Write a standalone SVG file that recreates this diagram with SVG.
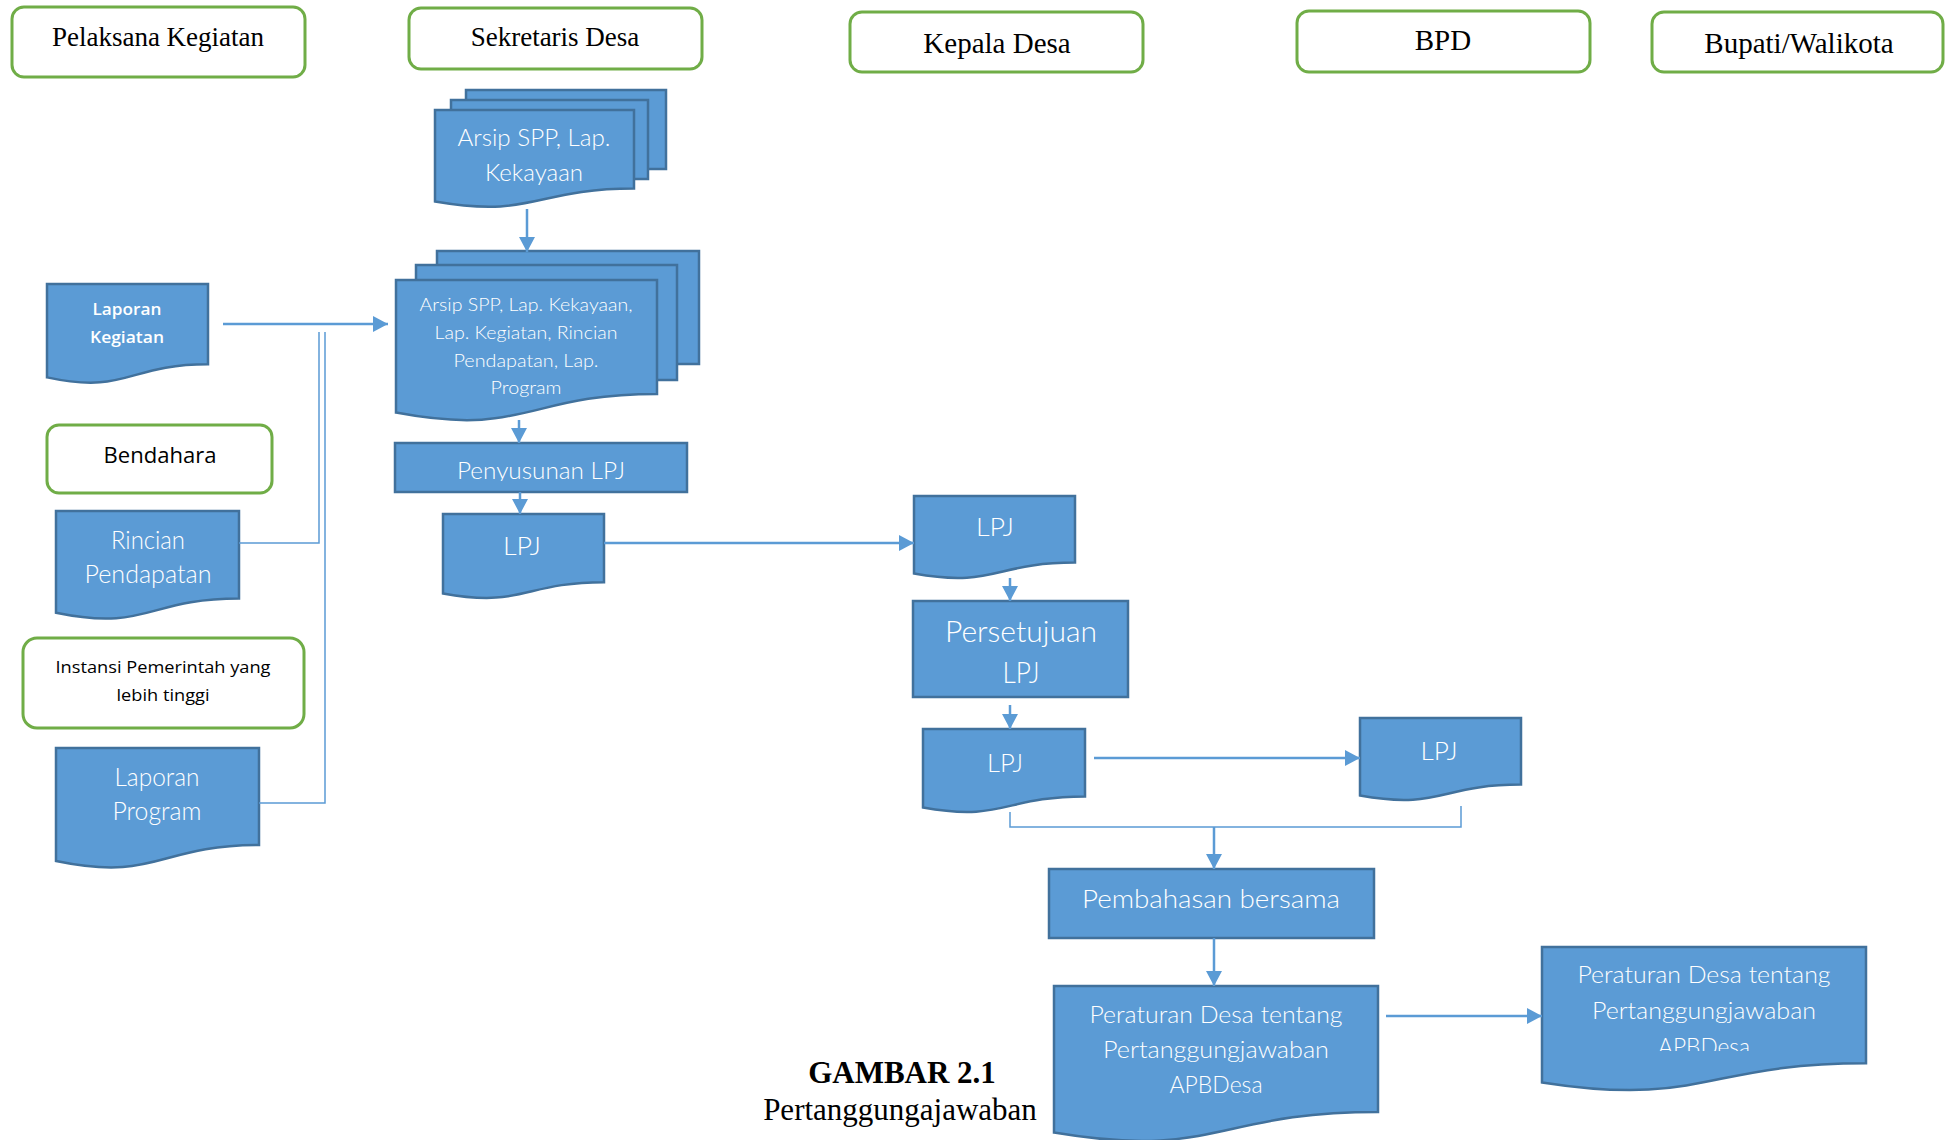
<svg xmlns="http://www.w3.org/2000/svg" width="1945" height="1140" viewBox="0 0 1945 1140">
<style>
.hdr{fill:#fff;stroke:#70AD47;stroke-width:3}
.ht{font-family:"Liberation Serif","Times New Roman",serif;fill:#000;text-anchor:middle}
.lt{font-family:"Open Sans","Noto Sans",sans-serif;font-weight:400;fill:#000;text-anchor:middle}
.shape{fill:#5B9BD5;stroke:#41719C;stroke-width:2.5}
.wt{font-family:Lato,"Open Sans",sans-serif;font-weight:300;fill:#fff;text-anchor:middle}
.wm{font-family:"Open Sans","Noto Sans",sans-serif;font-weight:600;fill:#fff;text-anchor:middle}
.arr{stroke:#5B9BD5;stroke-width:2.5;fill:none}
.thin{stroke:#5B9BD5;stroke-width:1.5;fill:none}
</style>
<defs>
<marker id="ah" markerUnits="userSpaceOnUse" markerWidth="16" markerHeight="16" refX="15" refY="8" orient="auto">
<path d="M0,0 L15,8 L0,16 Z" fill="#5B9BD5"/>
</marker>
<clipPath id="clipPeny"><rect x="395" y="443" width="292" height="38"/></clipPath>
<clipPath id="clipPer2"><rect x="1542" y="947" width="324" height="104"/></clipPath>
</defs>

<g id="hdr-pelaksana"><rect class="hdr" x="12" y="7" width="293" height="70" rx="12"/><text class="ht" x="158" y="46" font-size="27">Pelaksana Kegiatan</text></g>
<g id="hdr-sekretaris"><rect class="hdr" x="409" y="8" width="293" height="61" rx="12"/><text class="ht" x="555" y="46" font-size="27">Sekretaris Desa</text></g>
<g id="hdr-kepala"><rect class="hdr" x="850" y="12" width="293" height="60" rx="12"/><text class="ht" x="997" y="53" font-size="29">Kepala Desa</text></g>
<g id="hdr-bpd"><rect class="hdr" x="1297" y="11" width="293" height="61" rx="12"/><text class="ht" x="1443" y="50" font-size="29">BPD</text></g>
<g id="hdr-bupati"><rect class="hdr" x="1652" y="12" width="291" height="60" rx="12"/><text class="ht" x="1799" y="53" font-size="29">Bupati/Walikota</text></g>

<g id="laporan-kegiatan"><path class="shape" d="M47,284 H208 V364.2 C127.5,364.2 127.5,394.7 47,377.4 Z"/>
<text class="wm" x="127" y="315" font-size="17" textLength="69" lengthAdjust="spacingAndGlyphs">Laporan</text>
<text class="wm" x="127" y="343" font-size="17" textLength="74" lengthAdjust="spacingAndGlyphs">Kegiatan</text></g>

<g id="bendahara"><rect class="hdr" x="47" y="425" width="225" height="68" rx="12"/><text class="lt" x="160" y="463" font-size="22" textLength="113" lengthAdjust="spacingAndGlyphs">Bendahara</text></g>

<g id="rincian"><path class="shape" d="M56,511 H239 V598.4 C147.5,598.4 147.5,631.7 56,612.8 Z"/>
<text class="wt" x="148" y="549" font-size="25" textLength="74" lengthAdjust="spacingAndGlyphs">Rincian</text>
<text class="wt" x="148" y="583" font-size="25" textLength="127" lengthAdjust="spacingAndGlyphs">Pendapatan</text></g>

<g id="instansi"><rect class="hdr" x="23" y="638" width="281" height="90" rx="14"/>
<text class="lt" x="163" y="673" font-size="17" textLength="215" lengthAdjust="spacingAndGlyphs">Instansi Pemerintah yang</text>
<text class="lt" x="163" y="701" font-size="17" textLength="93" lengthAdjust="spacingAndGlyphs">lebih tinggi</text></g>

<g id="laporan-program"><path class="shape" d="M56,748 H259 V845 C157.5,845 157.5,882 56,861 Z"/>
<text class="wt" x="157" y="786" font-size="25" textLength="85" lengthAdjust="spacingAndGlyphs">Laporan</text>
<text class="wt" x="157" y="820" font-size="25" textLength="89" lengthAdjust="spacingAndGlyphs">Program</text></g>

<g id="arsip-stack">
<rect class="shape" x="466" y="90" width="200" height="79"/>
<rect class="shape" x="451" y="100" width="197" height="79"/>
<path class="shape" d="M435,110 H634 V188.6 C534.5,188.6 534.5,218.5 435,201.5 Z"/>
<text class="wt" x="534" y="146" font-size="23" textLength="153" lengthAdjust="spacingAndGlyphs">Arsip SPP, Lap.</text>
<text class="wt" x="534" y="181" font-size="23" textLength="98" lengthAdjust="spacingAndGlyphs">Kekayaan</text>
</g>

<g id="gabungan-stack">
<rect class="shape" x="437" y="251" width="262" height="113"/>
<rect class="shape" x="416" y="265" width="261" height="115"/>
<path class="shape" d="M396,280 H657 V393.9 C526.5,393.9 526.5,437.2 396,412.6 Z"/>
<text class="wt" x="526" y="311" font-size="18" textLength="213" lengthAdjust="spacingAndGlyphs">Arsip SPP, Lap. Kekayaan,</text>
<text class="wt" x="526" y="339" font-size="18" textLength="183" lengthAdjust="spacingAndGlyphs">Lap. Kegiatan, Rincian</text>
<text class="wt" x="526" y="367" font-size="18" textLength="145" lengthAdjust="spacingAndGlyphs">Pendapatan, Lap.</text>
<text class="wt" x="526" y="394" font-size="18" textLength="71" lengthAdjust="spacingAndGlyphs">Program</text>
</g>

<g id="penyusunan"><rect class="shape" x="395" y="443" width="292" height="49"/>
<text class="wt" x="541" y="479" font-size="24" textLength="168" lengthAdjust="spacingAndGlyphs" clip-path="url(#clipPeny)">Penyusunan LPJ</text></g>

<g id="lpj-sekdes"><path class="shape" d="M443,514 H604 V582.2 C523.5,582.2 523.5,608.1 443,593.4 Z"/>
<text class="wt" x="522" y="555" font-size="26" textLength="38" lengthAdjust="spacingAndGlyphs">LPJ</text></g>

<g id="lpj-kades"><path class="shape" d="M914,496 H1075 V562.6 C994.5,562.6 994.5,587.9 914,573.5 Z"/>
<text class="wt" x="995" y="536" font-size="26" textLength="38" lengthAdjust="spacingAndGlyphs">LPJ</text></g>

<g id="persetujuan"><rect class="shape" x="913" y="601" width="215" height="96"/>
<text class="wt" x="1021" y="642" font-size="29" textLength="152" lengthAdjust="spacingAndGlyphs">Persetujuan</text>
<text class="wt" x="1021" y="683" font-size="29" textLength="37" lengthAdjust="spacingAndGlyphs">LPJ</text></g>

<g id="lpj-kades2"><path class="shape" d="M923,729 H1085 V796.4 C1004,796.4 1004,822 923,807.5 Z"/>
<text class="wt" x="1005" y="772" font-size="26" textLength="36" lengthAdjust="spacingAndGlyphs">LPJ</text></g>

<g id="lpj-bpd"><path class="shape" d="M1360,718 H1521 V784.6 C1440.5,784.6 1440.5,809.9 1360,795.5 Z"/>
<text class="wt" x="1439" y="760" font-size="26" textLength="37" lengthAdjust="spacingAndGlyphs">LPJ</text></g>

<g id="pembahasan"><rect class="shape" x="1049" y="869" width="325" height="69"/>
<text class="wt" x="1211" y="908" font-size="26" textLength="258" lengthAdjust="spacingAndGlyphs">Pembahasan bersama</text></g>

<g id="perdes-kades"><path class="shape" d="M1054,986 H1378 V1111.9 C1216,1111.9 1216,1159.8 1054,1132.6 Z"/>
<text class="wt" x="1216" y="1023" font-size="24" textLength="253" lengthAdjust="spacingAndGlyphs">Peraturan Desa tentang</text>
<text class="wt" x="1216" y="1058" font-size="24" textLength="226" lengthAdjust="spacingAndGlyphs">Pertanggungjawaban</text>
<text class="wt" x="1216" y="1093" font-size="24" textLength="93" lengthAdjust="spacingAndGlyphs">APBDesa</text></g>

<g id="perdes-bupati"><path class="shape" d="M1542,947 H1866 V1063.3 C1704,1063.3 1704,1107.5 1542,1082.4 Z"/>
<g clip-path="url(#clipPer2)">
<text class="wt" x="1704" y="983" font-size="24" textLength="253" lengthAdjust="spacingAndGlyphs">Peraturan Desa tentang</text>
<text class="wt" x="1704" y="1019" font-size="24" textLength="224" lengthAdjust="spacingAndGlyphs">Pertanggungjawaban</text>
<text class="wt" x="1704" y="1055" font-size="24" textLength="92" lengthAdjust="spacingAndGlyphs">APBDesa</text>
</g></g>

<g id="caption">
<text class="ht" x="902" y="1083" font-size="31" font-weight="bold">GAMBAR 2.1</text>
<text class="ht" x="900" y="1120" font-size="31">Pertanggungajawaban</text>
</g>

<g id="connectors">
<path class="arr" d="M223,324 H388" marker-end="url(#ah)"/>
<path class="thin" d="M239,543 H319 V332"/>
<path class="thin" d="M259,803 H325 V332"/>
<path class="arr" d="M527,209 V252" marker-end="url(#ah)"/>
<path class="arr" d="M519,420 V443" marker-end="url(#ah)"/>
<path class="arr" d="M520,492 V514" marker-end="url(#ah)"/>
<path class="arr" d="M604,543 H914" marker-end="url(#ah)"/>
<path class="arr" d="M1010,578 V601" marker-end="url(#ah)"/>
<path class="arr" d="M1010,705 V729" marker-end="url(#ah)"/>
<path class="arr" d="M1094,758 H1360" marker-end="url(#ah)"/>
<path class="thin" d="M1010,812 V827 H1461 V806"/>
<path class="arr" d="M1214,827 V869" marker-end="url(#ah)"/>
<path class="arr" d="M1214,938 V986" marker-end="url(#ah)"/>
<path class="arr" d="M1386,1016 H1542" marker-end="url(#ah)"/>
</g>
</svg>
